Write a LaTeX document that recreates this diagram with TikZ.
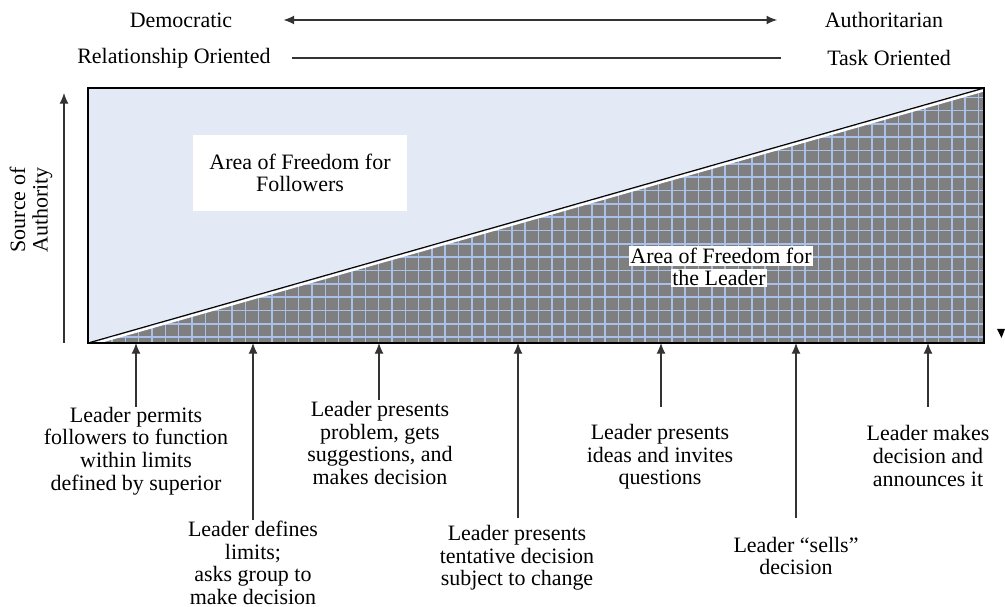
\documentclass[tikz,border=0pt]{standalone}
\usepackage{fontspec}
\setmainfont{Liberation Serif}
\usepackage{tikz}
\usetikzlibrary{arrows.meta}
\definecolor{paleblue}{HTML}{E3E9F5}
\definecolor{gridgrey}{HTML}{7F7F7F}
\definecolor{gridblue}{HTML}{A9C0E8}

\begin{document}
\begin{tikzpicture}[x=0.02cm,y=-0.02cm,
  font=\fontsize{12.5}{12.9}\selectfont,
  every node/.style={inner sep=1pt},
  label/.style={align=center},
  pointer/.style={-{Latex[length=6pt,width=5pt]},draw=black!80,line width=0.6pt},
  both/.style={{Latex[length=6pt,width=5pt]}-{Latex[length=6pt,width=5pt]},draw=black!80,line width=0.6pt},
  plain/.style={draw=black!80,line width=0.6pt},
  gridline/.style={draw=gridblue,line width=0.9pt}]
\useasboundingbox (0,0) rectangle (1005,607);
\coordinate (tl) at (88,88);
\coordinate (tr) at (984,88);
\coordinate (bl) at (88,343);
\coordinate (br) at (984,343);
\node (dem) at (181,20) {Democratic};
\node (auth) at (884,20) {Authoritarian};
\node (relor) at (174,58) {Relationship Oriented};
\node (task) at (889,58) {Task Oriented};
\draw[both,shorten <=28pt,shorten >=26pt] (dem) -- (auth);
\draw[plain,shorten <=11pt,shorten >=25pt] (relor) -- (task);
\fill[paleblue] (tl) rectangle (br);
\begin{scope}
\clip (bl) -- (tr) -- (br) -- cycle;
\fill[gridgrey] (tl) rectangle (br);
\foreach \i in {0,...,67} \draw[gridline] (98.7+\i*13.33,88) -- (98.7+\i*13.33,343);
\foreach \j in {0,...,19} \draw[gridline] (88,97.3+\j*13.33) -- (984,97.3+\j*13.33);
\end{scope}
\draw[white,line width=1.4pt] ([yshift=-1.3pt]bl) -- ([yshift=-1.3pt]tr);
\draw[black,line width=0.6pt] (bl) -- (tr);
\draw[black,line width=0.7pt] (tl) rectangle (br);
\node[fill=white,minimum width=4.3cm,minimum height=1.54cm,label] (follow) at (300,173) {Area of Freedom for\\Followers};
\node[fill=white] (ldr1) at (721,256) {Area of Freedom for};
\node[fill=white] (ldr2) at (719,278) {the Leader};
\coordinate (srcB) at (64,343);
\coordinate (srcT) at (64,93);
\draw[pointer] (srcB) -- (srcT);
\node[label,rotate=90] (src) at (31,210) {Source of\\Authority};
\node[label] (l1) at (136,451) {Leader permits\\followers to function\\within limits\\defined by superior};
\node[label] (l2) at (253,563) {Leader defines\\limits;\\asks group to\\make decision};
\node[label] (l3) at (380,443) {Leader presents\\problem, gets\\suggestions, and\\makes decision};
\node[label] (l4) at (517,558) {Leader presents\\tentative decision\\subject to change};
\node[label] (l5) at (660,457) {Leader presents\\ideas and invites\\questions};
\node[label] (l6) at (796,556) {Leader “sells”\\decision};
\node[label] (l7) at (928,456) {Leader makes\\decision and\\announces it};
\coordinate (t1) at (136,407);
\coordinate (t2) at (253,520);
\coordinate (t3) at (379,400);
\coordinate (t4) at (518,518);
\coordinate (t5) at (661,407);
\coordinate (t6) at (796,518);
\coordinate (t7) at (928,407);
\draw[pointer] (t1) -- (t1 |- bl);
\draw[pointer] (t2) -- (t2 |- bl);
\draw[pointer] (t3) -- (t3 |- bl);
\draw[pointer] (t4) -- (t4 |- bl);
\draw[pointer] (t5) -- (t5 |- bl);
\draw[pointer] (t6) -- (t6 |- bl);
\draw[pointer] (t7) -- (t7 |- bl);
\fill[black] (997,329) -- (1005,329) -- (1001.5,338) -- cycle;
\end{tikzpicture}
\end{document}
